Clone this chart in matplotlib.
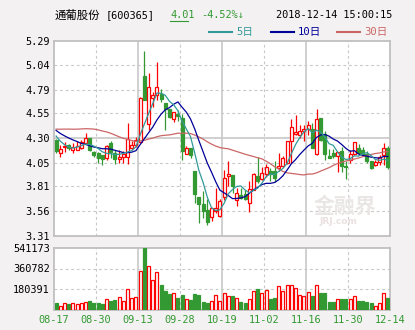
import numpy as np
import pandas as pd
import matplotlib
matplotlib.use("Agg")
import matplotlib.pyplot as plt
from matplotlib.lines import Line2D

# closes before 08-17, only used to warm up the moving averages
earlier_close = [4.22, 4.18, 4.20, 4.24, 4.21, 4.19, 4.23, 4.22, 4.20,
                 4.35, 4.42, 4.50, 4.58, 4.62, 4.65, 4.60, 4.62, 4.58, 4.55, 4.57,
                 4.50, 4.46, 4.42, 4.40, 4.39, 4.45, 4.40, 4.32, 4.26]

open_ = [4.28, 4.15, 4.21, 4.23, 4.18, 4.18, 4.20, 4.25, 4.30, 4.16,
         4.15, 4.13, 4.10, 4.25, 4.15, 4.09, 4.11, 4.11, 4.20, 4.23,
         4.26, 4.93, 4.44, 4.71, 4.74, 4.75, 4.655, 4.59, 4.49, 4.545,
         4.50, 4.14, 4.20, 3.97, 3.70, 3.63, 3.57, 3.495, 3.555, 3.505,
         3.70, 3.91, 3.92, 3.675, 3.725, 3.73, 3.64, 3.775, 3.91, 3.88,
         3.93, 3.96, 3.96, 4.00, 4.02, 4.05, 4.27, 4.345, 4.335, 4.37,
         4.395, 4.395, 4.14, 4.50, 4.345, 4.115, 4.15, 4.115, 4.17, 4.02,
         4.08, 4.14, 4.20, 4.18, 4.14, 4.07, 4.03, 4.06, 4.125, 4.20]
high = [4.29, 4.23, 4.26, 4.24, 4.25, 4.27, 4.28, 4.35, 4.30, 4.17,
        4.16, 4.13, 4.23, 4.27, 4.18, 4.18, 4.17, 4.45, 4.27, 4.31,
        4.72, 5.18, 4.96, 4.77, 5.07, 4.80, 4.66, 4.59, 4.565, 4.58,
        4.54, 4.22, 4.20, 3.97, 3.70, 3.76, 3.68, 3.59, 3.79, 3.68,
        3.98, 4.07, 3.92, 3.79, 3.79, 3.77, 3.86, 3.94, 4.11, 4.01,
        4.04, 4.00, 4.07, 4.15, 4.12, 4.27, 4.49, 4.53, 4.43, 4.435,
        4.47, 4.45, 4.59, 4.50, 4.37, 4.19, 4.19, 4.16, 4.21, 4.07,
        4.18, 4.26, 4.24, 4.21, 4.17, 4.07, 4.08, 4.13, 4.25, 4.215]
low = [4.15, 4.11, 4.16, 4.18, 4.15, 4.18, 4.19, 4.25, 4.17, 4.11,
       4.05, 4.03, 4.08, 4.10, 4.04, 4.05, 4.05, 4.04, 4.18, 4.21,
       4.25, 4.69, 4.38, 4.61, 4.69, 4.67, 4.38, 4.50, 4.46, 4.47,
       4.08, 4.14, 4.10, 3.64, 3.44, 3.49, 3.42, 3.455, 3.54, 3.50,
       3.67, 3.81, 3.74, 3.61, 3.68, 3.67, 3.55, 3.77, 3.84, 3.87,
       3.90, 3.86, 3.85, 3.96, 4.01, 4.04, 4.05, 4.33, 4.30, 4.27,
       4.33, 4.20, 4.13, 4.27, 4.08, 4.10, 4.10, 3.955, 3.955, 3.88,
       4.05, 4.13, 4.13, 4.12, 4.05, 3.99, 4.02, 4.03, 4.03, 3.99]
close = [4.17, 4.19, 4.22, 4.20, 4.21, 4.22, 4.26, 4.30, 4.18, 4.13,
         4.10, 4.09, 4.22, 4.16, 4.09, 4.11, 4.14, 4.29, 4.23, 4.28,
         4.71, 4.69, 4.82, 4.74, 4.82, 4.70, 4.59, 4.51, 4.565, 4.52,
         4.165, 4.20, 4.125, 3.73, 3.63, 3.56, 3.45, 3.59, 3.59, 3.665,
         3.89, 3.93, 3.81, 3.745, 3.69, 3.685, 3.785, 3.935, 3.86, 3.945,
         4.01, 3.93, 3.895, 4.02, 4.10, 4.27, 4.41, 4.36, 4.375, 4.395,
         4.435, 4.20, 4.49, 4.28, 4.14, 4.10, 4.115, 4.16, 4.02, 4.01,
         4.14, 4.26, 4.15, 4.14, 4.065, 3.995, 4.06, 4.105, 4.20, 4.01]
volume = [56000, 35000, 53000, 47000, 53000, 47000, 56000, 65000, 74000, 53000,
          56000, 47000, 88000, 74000, 82000, 106000, 79000, 176000, 97000, 106000,
          335000, 541173, 382000, 256000, 326000, 215000, 162000, 135000, 141000, 103000,
          126000, 94000, 82000, 135000, 126000, 65000, 59000, 71000, 124000, 71000,
          141000, 115000, 118000, 97000, 65000, 56000, 88000, 162000, 179000, 141000,
          168000, 91000, 100000, 203000, 162000, 212000, 212000, 185000, 126000, 118000,
          150000, 118000, 212000, 144000, 144000, 65000, 65000, 91000, 91000, 91000,
          91000, 115000, 79000, 71000, 65000, 56000, 35000, 56000, 141000, 100000]

date_labels = ["08-17", "08-30", "09-13", "09-28", "10-19", "11-02", "11-16", "11-30", "12-14"]
price_ticks = [3.31, 3.56, 3.81, 4.05, 4.30, 4.55, 4.79, 5.04, 5.29]
vol_ticks = [180391, 360782, 541173]

RED = "#ff0000"
GREEN = "#339933"
GRID = "#c8c8c8"
FRAME = "#c0c0c0"
BG = "#f3f1f1"
MONO = ["DejaVu Sans Mono", "Noto Sans CJK SC"]
CJK = ["Noto Sans CJK SC", "DejaVu Sans"]

W, H = 415, 330
def fx(px):
    return px / W
def fy(py):
    return 1 - py / H

n = len(close)
x = np.arange(n) + 0.5
up = np.array(close) >= np.array(open_)

s = pd.Series(earlier_close + close)
k = len(earlier_close)
ma5 = s.rolling(5).mean().values[k:]
ma10 = s.rolling(10).mean().values[k:]
ma30 = s.rolling(30).mean().values[k:]

fig = plt.figure(figsize=(W / 100, H / 100), dpi=100)
fig.patch.set_facecolor(BG)

ax = fig.add_axes([fx(54), fy(235.5), 336 / W, 195 / H])
vax = fig.add_axes([fx(54), fy(309.5), 336 / W, 61.5 / H])

def style_axes(a):
    a.set_facecolor("white")
    for sp in a.spines.values():
        sp.set_color(FRAME)
        sp.set_linewidth(1.3)
    a.tick_params(length=0)
    a.set_xlim(0, n)
    # vertical grid: every 10 bars, alternating dashed / solid
    for j, gx in enumerate(range(10, n, 10)):
        if j % 2 == 0:
            a.axvline(gx, color=GRID, lw=0.8, dashes=(2.5, 2.5), zorder=0.5)
        else:
            a.axvline(gx, color=GRID, lw=1.2, zorder=0.5)

style_axes(ax)
style_axes(vax)

# price panel
ax.set_ylim(price_ticks[0], price_ticks[-1])
ax.set_yticks(price_ticks)
ax.set_yticklabels(["%.2f" % t for t in price_ticks], family=MONO, fontsize=7.4)
ax.set_xticks([])
for t in price_ticks[1:-1]:
    if abs(t - 4.30) < 1e-6:
        ax.axhline(t, color=GRID, lw=1.2, zorder=0.5)
    else:
        ax.axhline(t, color=GRID, lw=0.8, dashes=(2.5, 2.5), zorder=0.5)

ax.text(fx(345), fy(206), "金融界", transform=fig.transFigure, family=CJK,
        fontsize=15, fontweight="bold", color="#ebe6e6", ha="center", va="center", zorder=0.6)
ax.text(fx(338), fy(221), "JRJ.com", transform=fig.transFigure, family=["DejaVu Sans"],
        fontsize=6.5, fontweight="bold", color="#ebe0e0", ha="center", va="center", zorder=0.6)

bw = 0.68
for i in range(n):
    col = RED if up[i] else GREEN
    ax.vlines(x[i], low[i], high[i], color=col, lw=0.9, zorder=2)
    bot = min(open_[i], close[i])
    h = max(abs(close[i] - open_[i]), 0.004)
    ax.bar(x[i], h, bottom=bot, width=bw, facecolor="white" if up[i] else col,
           edgecolor=col, linewidth=0.9, zorder=3)

ax.plot(x, ma30, color="#cc6666", lw=0.9, zorder=4)
ax.plot(x, ma10, color="#000099", lw=0.9, zorder=4)
ax.plot(x, ma5, color="#339999", lw=0.9, zorder=4)

# volume panel
vax.set_ylim(0, vol_ticks[-1])
vax.set_yticks(vol_ticks)
vax.set_yticklabels([str(v) for v in vol_ticks], family=MONO, fontsize=7.4)
for v in vol_ticks[:-1]:
    vax.axhline(v, color=GRID, lw=0.8, dashes=(2.5, 2.5), zorder=0.5)
vax.bar(x, volume, width=bw, facecolor=["white" if u else GREEN for u in up],
        edgecolor=[RED if u else GREEN for u in up], linewidth=0.9, zorder=3)
vax.set_xticks(np.arange(0, n + 1, 10))
vax.set_xticklabels(date_labels, family=MONO, fontsize=7.4, color=GREEN)
vax.tick_params(axis="x", pad=4)
ax.tick_params(axis="y", pad=3)
vax.tick_params(axis="y", pad=3)

# header
fig.text(fx(55), fy(15), "通葡股份", family=CJK, fontsize=8.2, va="center")
fig.text(fx(106), fy(15), "[600365]", family=MONO, fontsize=7.4, va="center")
fig.text(fx(170), fy(15), "4.01", family=MONO, fontsize=7.4, va="center", color=GREEN)
fig.add_artist(Line2D([fx(170), fx(188)], [fy(20.5), fy(20.5)], color=GREEN, lw=0.8))
fig.text(fx(201), fy(15), "-4.52%↓", family=MONO, fontsize=7.4, va="center", color=GREEN)
fig.text(fx(276), fy(15), "2018-12-14 15:00:15", family=MONO, fontsize=7.4, va="center")

legend_items = [("5日", "#339999", 209), ("10日", "#000099", 271), ("30日", "#cc6666", 337)]
for lab, c, x0 in legend_items:
    fig.add_artist(Line2D([fx(x0), fx(x0 + 23)], [fy(32), fy(32)], color=c, lw=1.5))
    fig.text(fx(x0 + 27), fy(32), lab, family=MONO, fontsize=7.6, va="center", color=c)

fig.savefig("out.png", dpi=100, facecolor=BG)
